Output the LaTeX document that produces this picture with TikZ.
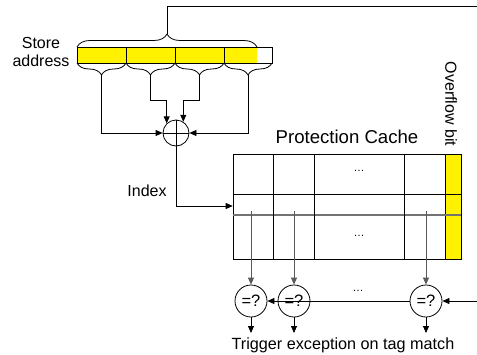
\documentclass[tikz,border=0pt]{standalone}
\usepackage{fontspec}
\setmainfont{Liberation Sans}
\usetikzlibrary{arrows.meta,decorations.pathreplacing}
\begin{document}
\begin{tikzpicture}[x=1pt,y=-1pt, line width=0.8pt,
  arr/.style={-{Triangle[length=7pt,width=6pt]}},
  cmp/.style={circle,draw,minimum size=32pt,inner sep=0pt,font=\fontsize{16.5}{18}\selectfont},
  lbl/.style={font=\fontsize{16}{18}\selectfont},
  dotl/.style={font=\fontsize{11}{12}\selectfont},
  br/.style={decorate,decoration={brace,amplitude=#1}},
  tagl/.style={black!65, arr},
]
\useasboundingbox (0,0) rectangle (477,354);

% address bar
\fill[yellow] (77,47) rectangle (257,63);
\draw (77,47) rectangle (272,63);
\foreach \x in {126,175,224} \draw (\x,47) -- (\x,63);
\node[lbl, align=center] (sa) at (41,52) {Store\\address};

% top brace and line
\draw[br=13pt] (77,47) -- (257,47);
\coordinate (tt) at (167,34);
\coordinate (tr) at (477,6);
\draw (tt) |- (tr);

% bottom braces
\draw[br=12pt] (126,63) -- (77,63);
\draw[br=12pt] (175,63) -- (126,63);
\draw[br=12pt] (224,63) -- (175,63);
\draw[br=12pt] (272,63) -- (224,63);
\coordinate (b1) at (101.5,75);
\coordinate (b2) at (150.5,75);
\coordinate (b3) at (199.5,75);
\coordinate (b4) at (248,75);

% xor
\node[circle,draw,minimum size=26pt,inner sep=0pt] (xor) at (176,133) {};
\draw (xor.north) -- (xor.south);
\draw (xor.west) -- (xor.east);
\coordinate (m) at (0,100);
\draw[arr] (b1) |- (xor.west);
\draw[arr] (b2) |- (xor.134 |- m) -- (xor.134);
\draw[arr] (b3) |- (xor.57 |- m) -- (xor.57);
\draw[arr] (b4) |- (xor.east);

% table
\node[draw, minimum width=212.3pt, minimum height=105pt, anchor=north west, inner sep=0pt] (tbl) at (232.7,154) {};
\fill[yellow] (445,154) rectangle (461,259);
\draw (445,154) rectangle (461,259);
\draw (232.7,194) -- (461,194);
\draw[black!55, line width=1.6pt] (232.7,215) -- (461,215);
\foreach \x in {273,314,404} \draw (\x,154) -- (\x,259);
\node[dotl] (d1) at (359,171) {…};
\node[dotl] (d2) at (359,236) {…};
\node[font=\fontsize{18.6}{20}\selectfont] (pc) at (347,137) {Protection Cache};
\node[lbl, rotate=-90] (ob) at (451,104) {Overflow bit};

% index
\coordinate (iy) at (0,206);
\draw[arr] (xor.south) |- (tbl.west |- iy);
\node[lbl] (ix) at (147,191) {Index};

% comparators
\node[cmp] (c1) at (251,301) {=?};
\node[cmp] (c2) at (294,301) {=?};
\node[cmp] (c3) at (426,301) {=?};
\coordinate (s1) at (251,211);
\coordinate (s2) at (294,211);
\coordinate (s3) at (426,211);
\draw[tagl] (s1) -- (c1);
\draw[tagl] (s2) -- (c2);
\draw[tagl] (s3) -- (c3);
\coordinate (rin) at (477,301);
\draw[arr] (rin) -- (c3);
\draw[arr] (c3) -- (c1);
\node[dotl] (d3) at (358,291) {…};
\coordinate (o1) at (251,333);
\coordinate (o2) at (294,333);
\coordinate (o3) at (426,333);
\draw[arr] (c1) -- (o1);
\draw[arr] (c2) -- (o2);
\draw[arr] (c3) -- (o3);
\node[font=\fontsize{16.2}{18}\selectfont] (trg) at (343,345) {Trigger exception on tag match};
\end{tikzpicture}
\end{document}
